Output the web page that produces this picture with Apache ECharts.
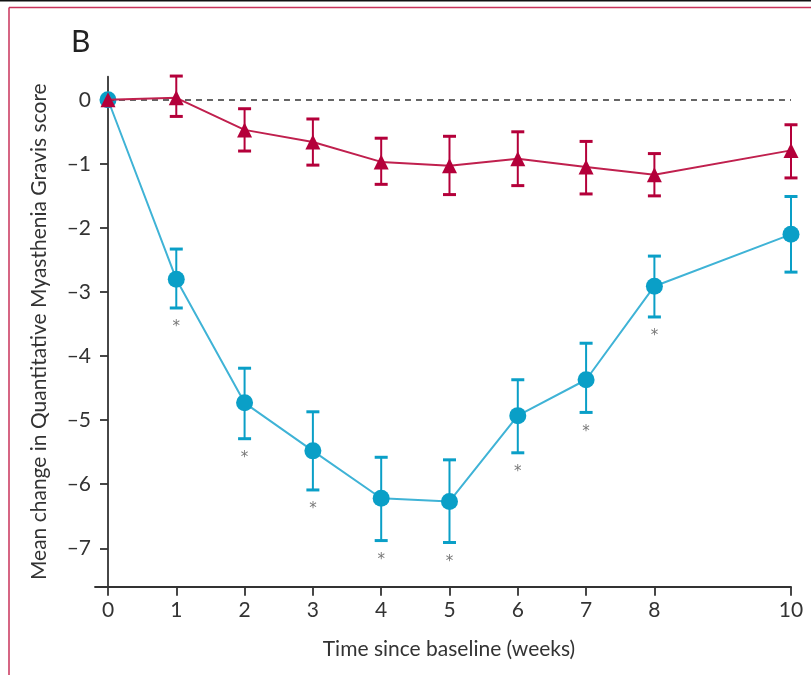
<!DOCTYPE html>
<html>
<head>
<meta charset="utf-8">
<script src="https://cdn.jsdelivr.net/npm/echarts@6/dist/echarts.min.js"></script>
<style>html,body{margin:0;padding:0;background:#fff}#c{width:811px;height:675px}</style>
</head>
<body>
<div id="c"></div>
<script>
// Data
const weeks = [0, 1, 2, 3, 4, 5, 6, 7, 8, 10];
const xTickValues = [0, 1, 2, 3, 4, 5, 6, 7, 8, 10];
const yTickValues = [-7, -6, -5, -4, -3, -2, -1, 0];
const blueMean  = [0, -2.80, -4.73, -5.48, -6.22, -6.27, -4.93, -4.37, -2.91, -2.10];
const blueUpper = [null, -2.33, -4.19, -4.87, -5.58, -5.62, -4.37, -3.80, -2.44, -1.51];
const blueLower = [null, -3.25, -5.29, -6.09, -6.88, -6.91, -5.51, -4.88, -3.39, -2.69];
const redMean  = [0, 0.03, -0.47, -0.66, -0.97, -1.03, -0.92, -1.05, -1.17, -0.79];
const redUpper = [null, 0.37, -0.14, -0.30, -0.60, -0.57, -0.50, -0.65, -0.84, -0.39];
const redLower = [null, -0.26, -0.80, -1.02, -1.32, -1.48, -1.34, -1.47, -1.50, -1.22];
const significantWeeks = [1, 2, 3, 4, 5, 6, 7, 8];

const BLUE_M = '#0a9fc7', BLUE_L = '#3fb3d6';
const RED_M = '#b4003a', RED_L = '#c0204e';
const FONT = 'Lato';
const TXT = '#333333';

function errData(upper, lower) {
  const out = [];
  weeks.forEach((w, i) => { if (upper[i] !== null) out.push([w, lower[i], upper[i]]); });
  return out;
}
function errSeries(upper, lower, color, z) {
  return {
    type: 'custom', z: z, silent: true,
    data: errData(upper, lower),
    encode: { x: 0, y: [1, 2] },
    renderItem: function (params, api) {
      const lo = api.coord([api.value(0), api.value(1)]);
      const hi = api.coord([api.value(0), api.value(2)]);
      const hw = 6.5;
      return {
        type: 'group',
        children: [
          { type: 'line', shape: { x1: lo[0], y1: lo[1], x2: hi[0], y2: hi[1] }, style: { stroke: color, lineWidth: 2 } },
          { type: 'line', shape: { x1: lo[0] - hw, y1: lo[1], x2: lo[0] + hw, y2: lo[1] }, style: { stroke: color, lineWidth: 3 } },
          { type: 'line', shape: { x1: hi[0] - hw, y1: hi[1], x2: hi[0] + hw, y2: hi[1] }, style: { stroke: color, lineWidth: 3 } }
        ]
      };
    }
  };
}

const chart = echarts.init(document.getElementById('c'), null, { renderer: 'canvas' });
const option = {
  animation: false,
  backgroundColor: '#fff',
  title: {
    text: 'B', left: 66, top: 22,
    textStyle: { fontFamily: FONT, fontSize: 30, fontWeight: 'normal', color: '#222' }
  },
  graphic: [
    { type: 'rect', shape: { x: 0, y: 0, width: 811, height: 1.5 }, style: { fill: '#111' }, z: 100 },
    { type: 'line', shape: { x1: 9, y1: 7.5, x2: 811, y2: 7.5 }, style: { stroke: '#c8325a', lineWidth: 1.5 }, z: 100 },
    { type: 'line', shape: { x1: 9, y1: 7.5, x2: 9, y2: 675 }, style: { stroke: '#c8325a', lineWidth: 1.5 }, z: 100 }
  ],
  grid: { left: 95, right: 20, top: 76.7, bottom: 88.3, containLabel: false },
  xAxis: {
    type: 'value', min: -0.19, max: 10,
    name: 'Time since baseline (weeks)', nameLocation: 'middle', nameGap: 52,
    nameTextStyle: { fontFamily: FONT, fontSize: 21, color: TXT, padding: [0, 0, 0, 12] },
    axisLine: { onZero: false, lineStyle: { color: '#333', width: 1.8 } },
    axisTick: { show: true, length: 9, customValues: xTickValues, lineStyle: { color: '#333', width: 1.8 } },
    axisLabel: { customValues: xTickValues, margin: 13, fontFamily: FONT, fontSize: 21, color: TXT },
    splitLine: { show: false }
  },
  yAxis: {
    type: 'value', min: -7.6, max: 0.36,
    name: 'Mean change in Quantitative Myasthenia Gravis score', nameLocation: 'middle', nameGap: 45,
    nameTextStyle: { fontFamily: FONT, fontSize: 21, color: TXT },
    axisLine: { onZero: true, lineStyle: { color: '#333', width: 1.8 } },
    axisTick: { show: true, length: 8, customValues: yTickValues, lineStyle: { color: '#333', width: 1.8 } },
    axisLabel: { customValues: yTickValues, margin: 4, fontFamily: FONT, fontSize: 21, color: TXT,
      formatter: v => (v < 0 ? '\u2013' + Math.abs(v) : String(v)) },
    splitLine: { show: false }
  },
  series: [
    {
      type: 'line', z: 2, silent: true, symbol: 'none', data: [],
      markLine: {
        silent: true, symbol: 'none', label: { show: false },
        lineStyle: { color: '#333', type: [6, 5], width: 1.5 },
        data: [[{ coord: [0, 0] }, { coord: [10, 0] }]]
      }
    },
    errSeries(blueUpper, blueLower, BLUE_M, 3),
    {
      type: 'line', z: 4, data: weeks.map((w, i) => [w, blueMean[i]]),
      symbol: 'circle', symbolSize: 17,
      lineStyle: { color: BLUE_L, width: 2 },
      itemStyle: { color: BLUE_M }
    },
    {
      type: 'scatter', z: 4, silent: true, symbolSize: 0,
      data: significantWeeks.map(w => [w, blueLower[weeks.indexOf(w)]]),
      label: { show: true, position: 'bottom', distance: 12, formatter: '*', fontFamily: 'DejaVu Sans', fontSize: 15, color: '#555' }
    },
    errSeries(redUpper, redLower, RED_M, 5),
    {
      type: 'line', z: 6, data: weeks.map((w, i) => [w, redMean[i]]),
      symbol: 'triangle', symbolSize: 15,
      lineStyle: { color: RED_L, width: 2 },
      itemStyle: { color: RED_M }
    }
  ]
};
chart.setOption(option);
</script>
</body>
</html>
